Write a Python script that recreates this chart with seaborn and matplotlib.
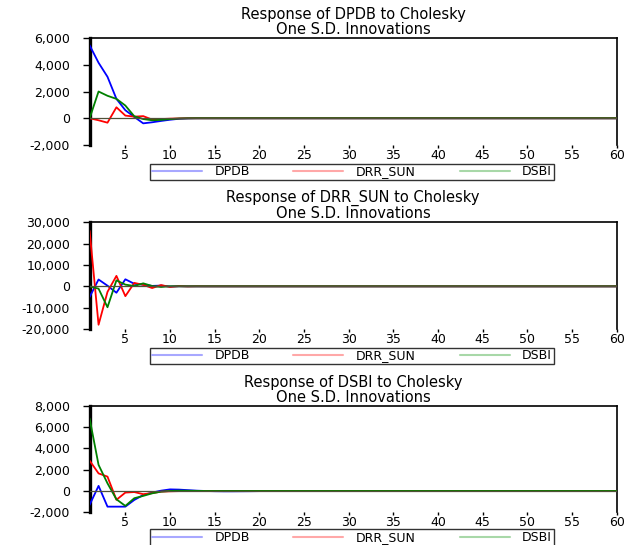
import pandas as pd
import matplotlib.pyplot as plt
import seaborn as sns
from matplotlib.lines import Line2D

sns.set_style('white')
plt.rcParams['font.family'] = ['DejaVu Sans']
plt.rcParams['text.color'] = 'black'
plt.rcParams['xtick.color'] = 'black'
plt.rcParams['ytick.color'] = 'black'

periods = list(range(1, 61))
flat = [0.0] * 40  # responses have died out after period 20

series_names = ['DPDB', 'DRR_SUN', 'DSBI']

# Response of DPDB
dpdb_to_dpdb = [5450, 4150, 3100, 1450, 600, 100, -380, -300, -200, -110,
                -40, -10, 0, 0, 0, 0, 0, 0, 0, 0] + flat
dpdb_to_drr = [0, -150, -330, 820, 200, 120, 160, -100, -60, -30,
               -10, 0, 0, 0, 0, 0, 0, 0, 0, 0] + flat
dpdb_to_dsbi = [0, 2000, 1680, 1450, 950, 150, -60, -150, -120, -60,
                -20, -5, 0, 0, 0, 0, 0, 0, 0, 0] + flat

# Response of DRR_SUN
drr_to_dpdb = [-5000, 3200, 300, -3000, 3300, 1200, 800, 200, 350, -100,
               50, 0, 0, 0, 0, 0, 0, 0, 0, 0] + flat
drr_to_drr = [26000, -18000, -2600, 4900, -4600, 1600, 700, -800, 600, -300,
              100, -50, 20, 0, 0, 0, 0, 0, 0, 0] + flat
drr_to_dsbi = [0, -1100, -9800, 2800, 800, 150, 1400, 150, -300, 50,
               0, 0, 0, 0, 0, 0, 0, 0, 0, 0] + flat

# Response of DSBI
dsbi_to_dpdb = [-1300, 480, -1470, -1470, -1470, -840, -380, -150, 30, 150,
                130, 80, 30, 0, -20, -30, -30, -25, -20, -10] + flat
dsbi_to_drr = [2850, 1650, 1350, -830, -150, -100, -300, -200, -60, -30,
               -10, 0, 0, 0, 0, 0, 0, 0, 0, 0] + flat
dsbi_to_dsbi = [6800, 2450, 720, -780, -1400, -680, -460, -220, -60, 0,
                30, 20, 10, 0, 0, 0, 0, 0, 0, 0] + flat

panels = [
    ('Response of DPDB to Cholesky\nOne S.D. Innovations',
     [dpdb_to_dpdb, dpdb_to_drr, dpdb_to_dsbi], (-2000, 6000), [-2000, 0, 2000, 4000, 6000]),
    ('Response of DRR_SUN to Cholesky\nOne S.D. Innovations',
     [drr_to_dpdb, drr_to_drr, drr_to_dsbi], (-20000, 30000),
     [-20000, -10000, 0, 10000, 20000, 30000]),
    ('Response of DSBI to Cholesky\nOne S.D. Innovations',
     [dsbi_to_dpdb, dsbi_to_drr, dsbi_to_dsbi], (-2000, 8000),
     [-2000, 0, 2000, 4000, 6000, 8000]),
]

line_colors = ['#0000ff', '#ff0000', '#008000']
legend_colors = ['#a8a8ff', '#ffa8a8', '#a8d8a8']

# axes boxes in figure fractions (left, bottom, width, height)
boxes = [(0.1434, 0.7339, 0.8432, 0.1964),
         (0.1434, 0.3963, 0.8432, 0.1958),
         (0.1434, 0.0600, 0.8432, 0.1955)]
legend_y = [0.6845, 0.3470, 0.0135]

fig = plt.figure(figsize=(6.25, 5.45), dpi=100)

for (title, values, ylim, yticks), box, ly in zip(panels, boxes, legend_y):
    ax = fig.add_axes(box)
    df = pd.DataFrame({
        'period': periods * 3,
        'value': values[0] + values[1] + values[2],
        'series': [n for n in series_names for _ in periods],
    })
    sns.lineplot(data=df, x='period', y='value', hue='series', palette=line_colors,
                 hue_order=series_names, lw=1.3, legend=False, ax=ax, zorder=3)
    ax.axhline(0, color='#505038', lw=0.9, zorder=4)
    ax.set_xlim(1, 60)
    ax.set_ylim(*ylim)
    ax.set_xticks(range(5, 61, 5))
    ax.set_yticks(yticks)
    ax.set_yticklabels([f'{t:,}' for t in yticks])
    ax.set_xlabel('')
    ax.set_ylabel('')
    ax.tick_params(axis='y', direction='out', length=5, width=1, pad=9, labelsize=9,
                   left=True)
    ax.tick_params(axis='x', direction='out', length=2.5, width=1, pad=0.5, labelsize=9,
                   bottom=True)
    for side in ['top', 'right']:
        ax.spines[side].set_color('black')
        ax.spines[side].set_linewidth(1.2)
    ax.spines['left'].set_color('black')
    ax.spines['left'].set_linewidth(2.4)
    ax.spines['bottom'].set_visible(False)
    ax.set_title(title, fontsize=10.5, linespacing=1.0, pad=3, color='black')

    handles = [Line2D([], [], color=c, lw=1.5) for c in legend_colors]
    leg = fig.legend(handles, series_names, loc='center', ncol=3,
                     bbox_to_anchor=(0.563, ly), fontsize=9, frameon=True,
                     fancybox=False, edgecolor='black', handlelength=4.0,
                     columnspacing=3.5, handletextpad=1.0, borderpad=0.15,
                     borderaxespad=0)
    leg.get_frame().set_linewidth(1.0)

fig.savefig('out.png', dpi=100)
